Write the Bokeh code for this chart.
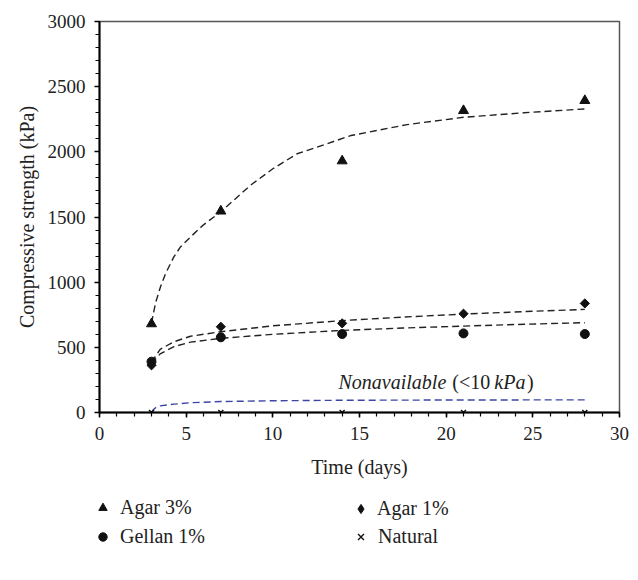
import math
from bokeh.plotting import figure
from bokeh.layouts import column
from bokeh.models import Range1d, SingleIntervalTicker, Legend, LegendItem, Label
from bokeh.embed import file_html
from bokeh.resources import INLINE

FONT = "Liberation Serif"
INK = "#111111"

# Measured compressive strength (kPa) by curing time (days)
days = [3, 7, 14, 21, 28]
agar3 = [680, 1545, 1930, 2316, 2393]
agar1 = [362, 658, 684, 758, 837]
gellan1 = [390, 577, 602, 607, 602]
natural = [0, 0, 0, 0, 0]

# Trend lines (dashed)
agar3_fit_t = [3, 3.23, 3.52, 3.81, 4.29, 4.67, 5.25, 6.0, 6.98, 8.7, 10, 11.4, 13.1, 14.5, 17.75, 21, 24.5, 28]
agar3_fit = [686, 839, 965, 1066, 1194, 1270, 1347, 1440, 1538, 1742, 1870, 1985, 2061, 2125, 2209, 2265, 2300, 2329]

agar1_fit_t = [3, 3.5, 4.3, 5.25, 7, 10, 14, 17.5, 21, 24.5, 28]
agar1_fit = [385, 485, 543, 585, 620, 665, 705, 732, 755, 774, 791]

gellan1_fit_t = [3, 3.5, 4.3, 5.25, 7, 10, 14, 17.5, 21, 24.5, 28]
gellan1_fit = [375, 450, 505, 540, 569, 600, 630, 648, 663, 677, 689]

natural_fit_t = [3, 3.1, 3.25, 3.5, 4.3, 5.25, 7, 10, 14, 21, 28]
natural_fit = [0, 20, 38, 51, 64, 75, 84, 90, 94, 96, 97]

series = {
    "Agar 3%": agar3,
    "Gellan 1%": gellan1,
    "Agar 1%": agar1,
    "Natural": natural,
}

p = figure(
    width=638, height=480,
    x_range=Range1d(0, 30), y_range=Range1d(0, 3000),
    output_backend="svg", toolbar_location=None,
    min_border_left=99, min_border_right=19,
    min_border_top=21, min_border_bottom=67,
)
p.background_fill_color = "white"
p.border_fill_color = "white"
p.outline_line_color = "#555555"
p.outline_line_width = 1.5
p.xgrid.visible = False
p.ygrid.visible = False

# Axes
p.xaxis.ticker = SingleIntervalTicker(interval=5, num_minor_ticks=5)
p.yaxis.ticker = SingleIntervalTicker(interval=500, num_minor_ticks=5)
for ax in (p.xaxis, p.yaxis):
    ax.axis_line_color = "black"
    ax.axis_line_width = 2
    ax.major_tick_line_color = "black"
    ax.minor_tick_line_color = "black"
    ax.major_tick_line_width = 1.5
    ax.minor_tick_line_width = 1.2
    ax.major_tick_in = 0
    ax.major_tick_out = 5
    ax.minor_tick_in = 0
    ax.minor_tick_out = 4
    ax.major_label_text_font = FONT
    ax.major_label_text_font_size = "19px"
    ax.major_label_text_color = "#222222"
    ax.axis_label_text_font = FONT
    ax.axis_label_text_font_size = "20px"
    ax.axis_label_text_font_style = "normal"
    ax.axis_label_text_color = "#222222"
p.xaxis.axis_label = "Time (days)"
p.yaxis.axis_label = "Compressive strength (kPa)"
p.xaxis.major_label_standoff = 9
p.yaxis.major_label_standoff = 9
p.xaxis.axis_label_standoff = 13
p.yaxis.axis_label_standoff = 7

# Trend lines
dash_kw = dict(line_dash="7 4", line_width=1.4)
p.line(agar3_fit_t, agar3_fit, line_color="#222222", **dash_kw)
p.line(agar1_fit_t, agar1_fit, line_color="#222222", **dash_kw)
p.line(gellan1_fit_t, gellan1_fit, line_color="#222222", **dash_kw)
p.line(natural_fit_t, natural_fit, line_color="#3c45a5", **dash_kw)

# Measured points
point_styles = {
    "Agar 3%": dict(marker="triangle", size=10, color=INK),
    "Gellan 1%": dict(marker="circle", size=9, color=INK),
    "Agar 1%": dict(marker="square", size=6.5, angle=math.pi / 4, color=INK),
    "Natural": dict(marker="x", size=7, line_color=INK, line_width=1.5),
}
for name, vals in series.items():
    p.scatter(days, vals, **point_styles[name])

# Annotation for the natural samples
ann_y = 235
for txt, x, style, align in [
    ("Nonavailable", 13.79, "italic", "left"),
    ("(<10", 20.35, "normal", "left"),
    ("kPa", 22.78, "italic", "left"),
    (")", 25.05, "normal", "right"),
]:
    p.add_layout(Label(x=x, y=ann_y, text=txt, text_font=FONT, text_font_size="20px",
                       text_font_style=style, text_align=align, text_baseline="alphabetic",
                       text_color="#222222"))

# Legend strip under the chart (two columns); its data lies outside the visible range
leg = figure(width=638, height=100, x_range=Range1d(0, 1), y_range=Range1d(-1, -2),
             output_backend="svg", toolbar_location=None,
             x_axis_type=None, y_axis_type=None,
             min_border_left=0, min_border_right=0, min_border_top=0, min_border_bottom=0)
leg.outline_line_color = None
leg.xgrid.visible = False
leg.ygrid.visible = False
leg.background_fill_color = "white"
leg.border_fill_color = "white"
for fig in (p, leg):
    if "frame_align" in fig.properties():
        fig.frame_align = False

key_styles = {
    "Agar 3%": dict(marker="triangle", color=INK),
    "Gellan 1%": dict(marker="circle", color=INK),
    "Agar 1%": dict(marker="diamond", color=INK),
    "Natural": dict(marker="x", line_color=INK, line_width=1.4),
}
handles = {name: leg.scatter(days, vals, **key_styles[name]) for name, vals in series.items()}

# (name, glyph box, left, bottom) for each legend entry
legend_slots = [
    ("Agar 3%", 21, 92, 61),
    ("Gellan 1%", 21, 92, 32),
    ("Agar 1%", 23, 349, 60),
    ("Natural", 21, 350, 32),
]
for name, box, lx, ly in legend_slots:
    leg.add_layout(Legend(
        items=[LegendItem(label=name, renderers=[handles[name]])],
        location=(lx, ly), orientation="vertical",
        glyph_width=box, glyph_height=box, label_height=20,
        spacing=0, padding=0, margin=0, label_standoff=7 - (box - 21),
        label_text_font=FONT, label_text_font_size="20px",
        label_text_color="#222222",
        border_line_color=None, background_fill_alpha=0,
    ))

layout = column(p, leg, spacing=0)
open("out.html", "w").write(file_html(layout, INLINE))
